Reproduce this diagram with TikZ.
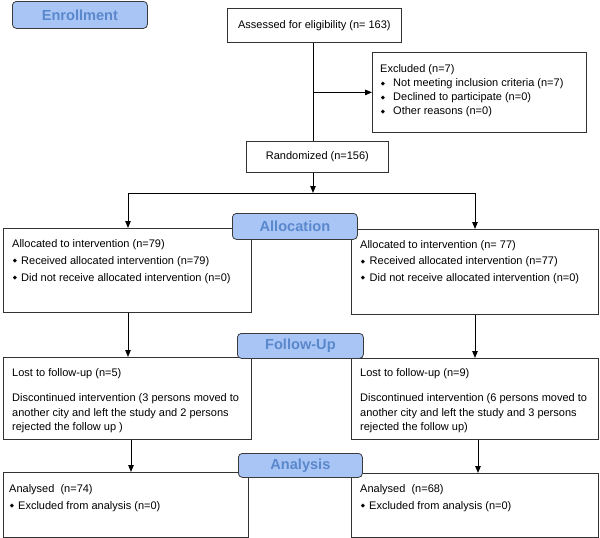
\documentclass[tikz,border=0pt]{standalone}
\usepackage{fontspec}
\setmainfont{Liberation Sans}
\newfontfamily\dejavu{DejaVu Sans}
\usetikzlibrary{arrows.meta}
\definecolor{lblfill}{HTML}{A9C5F5}
\definecolor{lbltext}{HTML}{5A88CC}
\definecolor{lbldraw}{HTML}{3A3A3A}
\definecolor{boxdraw}{HTML}{333333}
\newcommand{\bul}[1][10pt]{\makebox[#1][l]{\hspace{0.6pt}\raisebox{1.3pt}{\dejavu\fontsize{5.5}{5.5}\selectfont ◆}}}
\begin{document}
\begin{tikzpicture}[x=1pt,y=-1pt,
  font=\fontsize{11}{13}\selectfont,
  box/.style={draw=boxdraw, line width=0.8pt, inner sep=0pt, anchor=north west},
  lbl/.style={draw=lbldraw, fill=lblfill, rounded corners=4pt, text=lbltext,
    font=\fontsize{14.6}{14.6}\selectfont\bfseries, inner sep=0pt, anchor=north west, line width=0.8pt},
  tx/.style={anchor=base west, inner sep=0pt},
  conn/.style={line width=1pt, draw=black},
  arr/.style={conn, -{Triangle[length=7pt,width=5.5pt]}}]
\useasboundingbox (0,0) rectangle (600,538);

% boxes
\node[box, minimum width=174pt, minimum height=34pt] (assess) at (227,8) {Assessed for eligibility (n= 163)};
\node[box, minimum width=214pt, minimum height=80pt] (excl) at (372,52) {};
\node[box, minimum width=142pt, minimum height=31pt] (rand) at (246,141) {Randomized (n=156)};
\node[box, minimum width=248pt, minimum height=84pt] (allocL) at (3,228) {};
\node[box, minimum width=247pt, minimum height=85pt] (allocR) at (351,229) {};
\node[box, minimum width=248pt, minimum height=82pt] (fuL) at (3,357) {};
\node[box, minimum width=247pt, minimum height=81pt] (fuR) at (351,358) {};
\node[box, minimum width=245pt, minimum height=65pt] (anL) at (3,472) {};
\node[box, minimum width=247pt, minimum height=64pt] (anR) at (351,473) {};

% texts
\node[tx] (ex1) at (380,72.5) {Excluded (n=7)};
\node[tx] (ex2) at (380,86.5) {\bul[13pt]Not meeting inclusion criteria (n=7)};
\node[tx] (ex3) at (380,100.5) {\bul[13pt]Declined to participate (n=0)};
\node[tx] (ex4) at (380,114.5) {\bul[13pt]Other reasons (n=0)};

\node[tx] (aL1) at (12,247) {Allocated to intervention (n=79)};
\node[tx] (aL2) at (12,264) {\bul[9pt]Received allocated intervention (n=79)};
\node[tx] (aL3) at (12,281) {\bul[9pt]Did not receive allocated intervention (n=0)};

\node[tx] (aR1) at (360,248) {Allocated to intervention (n= 77)};
\node[tx] (aR2) at (360,264.5) {\bul[9.5pt]Received allocated intervention (n=77)};
\node[tx] (aR3) at (360,281) {\bul[9.5pt]Did not receive allocated intervention (n=0)};

\node[tx] (fL1) at (12,376) {Lost to follow-up (n=5)};
\node[tx] (fL2) at (12,401) {Discontinued intervention (3 persons moved to};
\node[tx] (fL3) at (12,416) {another city and left the study and 2 persons};
\node[tx] (fL4) at (12,430) {rejected the follow up )};

\node[tx] (fR1) at (360,376) {Lost to follow-up (n=9)};
\node[tx] (fR2) at (360,401) {Discontinued intervention (6 persons moved to};
\node[tx] (fR3) at (360,416) {another city and left the study and 3 persons};
\node[tx] (fR4) at (360,430) {rejected the follow up)};

\node[tx] (nL1) at (9,492) {Analysed~ (n=74)};
\node[tx] (nL2) at (9,509) {\bul[9pt]Excluded from analysis (n=0)};
\node[tx] (nR1) at (360,492) {Analysed~ (n=68)};
\node[tx] (nR2) at (360,509) {\bul[9pt]Excluded from analysis (n=0)};

% connectors
\coordinate (cx) at (313,0);
\coordinate (split) at (313,193);
\coordinate (splitL) at (128,193);
\coordinate (splitR) at (475,193);
\coordinate (aLx) at (131,0);
\coordinate (aRx) at (478,0);
\draw[conn] (cx |- assess.south) -- (cx |- rand.north);
\draw[arr] (excl.west -| cx) -- (excl.west);
\draw[arr] (cx |- rand.south) -- (split);
\draw[conn] (splitL) -- (splitR);
\draw[arr] (splitL) -- (splitL |- allocL.north);
\draw[arr] (splitR) -- (splitR |- allocR.north);
\draw[arr] (splitL |- allocL.south) -- (splitL |- fuL.north);
\draw[arr] (splitR |- allocR.south) -- (splitR |- fuR.north);
\draw[arr] (aLx |- fuL.south) -- (aLx |- anL.north);
\draw[arr] (aRx |- fuR.south) -- (aRx |- anR.north);

% stage labels
\node[lbl, minimum width=135pt, minimum height=27pt] (enr) at (12,1) {Enrollment};
\node[lbl, minimum width=125pt, minimum height=26pt] (alc) at (232,213) {Allocation};
\node[lbl, minimum width=126pt, minimum height=25pt] (fup) at (237,333) {Follow-Up};
\node[lbl, minimum width=124pt, minimum height=24pt] (ana) at (238,453) {Analysis};
\end{tikzpicture}
\end{document}
